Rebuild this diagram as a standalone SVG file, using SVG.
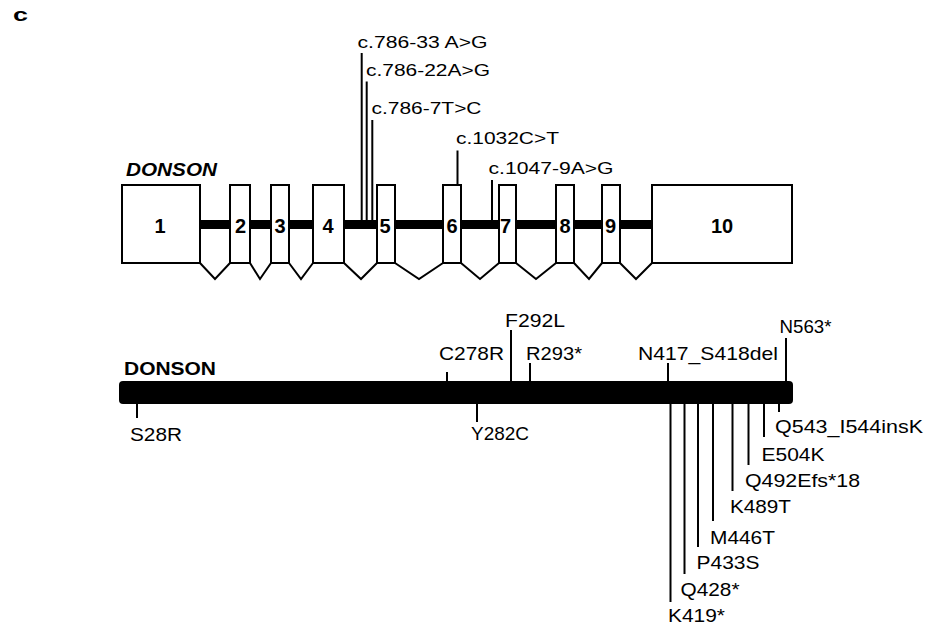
<svg xmlns="http://www.w3.org/2000/svg" width="930" height="634" viewBox="0 0 930 634">
<style>
.bg{fill:#fff}
.exon{fill:#fff;stroke:#000;stroke-width:2}
.num{font-family:"Liberation Sans",Arial,sans-serif;font-weight:bold;font-size:20px;text-anchor:middle;fill:#000}
.lbl{font-family:"Liberation Sans",Arial,sans-serif;font-size:17px;fill:#000}
.plbl{font-family:"Liberation Sans",Arial,sans-serif;font-size:19px;fill:#000}
.title{font-family:"Liberation Sans",Arial,sans-serif;font-weight:bold;font-size:19px;fill:#000}
.tick{stroke:#000;stroke-width:2;fill:none}
.splice{stroke:#000;stroke-width:2;fill:none;stroke-linejoin:miter}
.intron{stroke:#000;stroke-width:9}
</style>
<rect class="bg" x="0" y="0" width="930" height="634"/>
<text id="panel-c" class="title" x="13" y="20.5" font-size="20" textLength="15" lengthAdjust="spacingAndGlyphs">c</text>

<g id="connectors">
  <line class="intron" x1="200" y1="224.5" x2="652" y2="224.5"/>
  <polyline class="splice" points="200,263 215,279 230,263"/>
  <polyline class="splice" points="250,263 260,279 271,263"/>
  <polyline class="splice" points="289,263 301,279 313,263"/>
  <polyline class="splice" points="344,263 361,279 377,263"/>
  <polyline class="splice" points="395,263 419,279 443,263"/>
  <polyline class="splice" points="461,263 480,279 499,263"/>
  <polyline class="splice" points="516,263 536,279 556,263"/>
  <polyline class="splice" points="574,263 589,279 602,263"/>
  <polyline class="splice" points="620,263 636,279 652,263"/>
  <line class="tick" x1="361.7" y1="53" x2="361.7" y2="224"/>
  <line class="tick" x1="366.7" y1="81.5" x2="366.7" y2="224"/>
  <line class="tick" x1="372.3" y1="120" x2="372.3" y2="224"/>
  <line class="tick" x1="457.5" y1="150.5" x2="457.5" y2="185"/>
  <line class="tick" x1="492" y1="180" x2="492" y2="224"/>
  <line class="tick" x1="447" y1="372" x2="447" y2="382"/>
  <line class="tick" x1="511" y1="330" x2="511" y2="382"/>
  <line class="tick" x1="530" y1="363" x2="530" y2="382"/>
  <line class="tick" x1="668" y1="363" x2="668" y2="382"/>
  <line class="tick" x1="786" y1="338" x2="786" y2="382"/>
  <line class="tick" x1="137" y1="403" x2="137" y2="418"/>
  <line class="tick" x1="477" y1="403" x2="477" y2="422"/>
  <line class="tick" x1="670.5" y1="403" x2="670.5" y2="602"/>
  <line class="tick" x1="684.5" y1="403" x2="684.5" y2="574"/>
  <line class="tick" x1="698" y1="403" x2="698" y2="547"/>
  <line class="tick" x1="713" y1="403" x2="713" y2="521"/>
  <line class="tick" x1="732.5" y1="403" x2="732.5" y2="491"/>
  <line class="tick" x1="748.5" y1="403" x2="748.5" y2="465"/>
  <line class="tick" x1="764" y1="403" x2="764" y2="437"/>
  <line class="tick" x1="779" y1="403" x2="779" y2="412"/>
</g>

<g id="gene">
  <text class="title" x="126" y="176" font-size="18" font-style="italic" textLength="91" lengthAdjust="spacingAndGlyphs">DONSON</text>
  <g id="exon1"><rect class="exon" x="122" y="185" width="78" height="78"/><text class="num" x="160" y="232.5">1</text></g>
  <g id="exon2"><rect class="exon" x="230" y="185" width="20" height="78"/><text class="num" x="240.5" y="232.5">2</text></g>
  <g id="exon3"><rect class="exon" x="271" y="185" width="18" height="78"/><text class="num" x="280" y="232.5">3</text></g>
  <g id="exon4"><rect class="exon" x="313" y="185" width="31" height="78"/><text class="num" x="328" y="232.5">4</text></g>
  <g id="exon5"><rect class="exon" x="377" y="185" width="18" height="78"/><text class="num" x="385" y="232.5">5</text></g>
  <g id="exon6"><rect class="exon" x="443" y="185" width="18" height="78"/><text class="num" x="452" y="232.5">6</text></g>
  <g id="exon7"><rect class="exon" x="499" y="185" width="17" height="78"/><text class="num" x="505.5" y="232.5">7</text></g>
  <g id="exon8"><rect class="exon" x="556" y="185" width="18" height="78"/><text class="num" x="565" y="232.5">8</text></g>
  <g id="exon9"><rect class="exon" x="602" y="185" width="18" height="78"/><text class="num" x="610.5" y="232.5">9</text></g>
  <g id="exon10"><rect class="exon" x="652" y="185" width="140" height="78"/><text class="num" x="722" y="232.5">10</text></g>
</g>

<g id="gene-variants">
  <text id="v1" class="lbl" x="357.5" y="47.5" textLength="130" lengthAdjust="spacingAndGlyphs">c.786-33 A&gt;G</text>
  <text id="v2" class="lbl" x="366" y="75.5" textLength="124" lengthAdjust="spacingAndGlyphs">c.786-22A&gt;G</text>
  <text id="v3" class="lbl" x="371.5" y="113.5" textLength="110" lengthAdjust="spacingAndGlyphs">c.786-7T&gt;C</text>
  <text id="v4" class="lbl" x="456" y="143.5" textLength="103" lengthAdjust="spacingAndGlyphs">c.1032C&gt;T</text>
  <text id="v5" class="lbl" x="488.5" y="173.5" textLength="125" lengthAdjust="spacingAndGlyphs">c.1047-9A&gt;G</text>
</g>

<g id="protein">
  <text class="title" x="124" y="375" textLength="92" lengthAdjust="spacingAndGlyphs">DONSON</text>
  <rect x="119" y="381" width="674" height="23" rx="4" ry="4" fill="#000"/>
</g>

<g id="protein-variants">
  <text id="p-S28R" class="plbl" x="130" y="441" textLength="52" lengthAdjust="spacingAndGlyphs">S28R</text>
  <text id="p-C278R" class="plbl" x="439" y="360" textLength="65" lengthAdjust="spacingAndGlyphs">C278R</text>
  <text id="p-F292L" class="plbl" x="505" y="327" textLength="60" lengthAdjust="spacingAndGlyphs">F292L</text>
  <text id="p-R293" class="plbl" x="526" y="360" textLength="56" lengthAdjust="spacingAndGlyphs">R293*</text>
  <text id="p-N417" class="plbl" x="638" y="360" textLength="140" lengthAdjust="spacingAndGlyphs">N417_S418del</text>
  <text id="p-N563" class="plbl" x="779.5" y="333" textLength="52" lengthAdjust="spacingAndGlyphs">N563*</text>
  <text id="p-Y282C" class="plbl" x="471" y="439.5" textLength="58" lengthAdjust="spacingAndGlyphs">Y282C</text>
  <text id="p-Q543" class="plbl" x="775" y="433" textLength="148" lengthAdjust="spacingAndGlyphs">Q543_I544insK</text>
  <text id="p-E504K" class="plbl" x="761.5" y="461" textLength="63" lengthAdjust="spacingAndGlyphs">E504K</text>
  <text id="p-Q492" class="plbl" x="745" y="487" textLength="115" lengthAdjust="spacingAndGlyphs">Q492Efs*18</text>
  <text id="p-K489T" class="plbl" x="730" y="512.5" textLength="61" lengthAdjust="spacingAndGlyphs">K489T</text>
  <text id="p-M446T" class="plbl" x="710" y="543.5" textLength="65" lengthAdjust="spacingAndGlyphs">M446T</text>
  <text id="p-P433S" class="plbl" x="696.5" y="569" textLength="63" lengthAdjust="spacingAndGlyphs">P433S</text>
  <text id="p-Q428" class="plbl" x="680.5" y="596" textLength="59" lengthAdjust="spacingAndGlyphs">Q428*</text>
  <text id="p-K419" class="plbl" x="668" y="622" textLength="57" lengthAdjust="spacingAndGlyphs">K419*</text>
</g>
</svg>
